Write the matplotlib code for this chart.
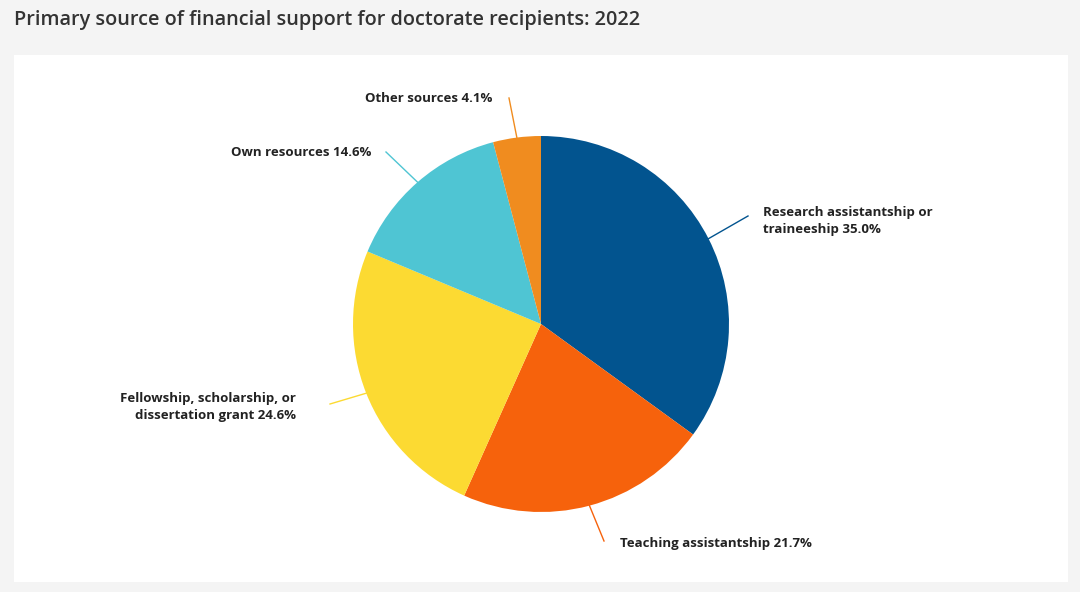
import numpy as np
import matplotlib
matplotlib.use("Agg")
import matplotlib.pyplot as plt
from matplotlib.patches import Rectangle

# ── Data ──────────────────────────────────────────────
labels = ["Research assistantship or\ntraineeship", "Teaching assistantship",
          "Fellowship, scholarship, or\ndissertation grant", "Own resources",
          "Other sources"]
shares = [35.0, 21.7, 24.6, 14.6, 4.1]
colors = ["#02548f", "#f6620c", "#fcda32", "#4fc5d3", "#f08c1f"]

# label text anchor (pixel), ha, leader end (pixel)
label_pos = [
    ((763, 221), "left", (748, 216)),
    ((620, 544), "left", (604, 541)),
    ((296, 407), "right", (330, 404)),
    ((371, 153), "right", (386, 152)),
    ((492, 99), "right", (509, 98)),
]

W, H = 1080, 592
CX, CY, R = 541, 324, 188

fig = plt.figure(figsize=(W / 100, H / 100), dpi=100)
fig.patch.set_facecolor("#f4f4f4")
fig.patches.append(Rectangle((14 / W, 10 / H), 1054 / W, 527 / H,
                             transform=fig.transFigure, facecolor="white",
                             edgecolor="none", zorder=-5))
fig.text(14 / W, 1 - 20 / H, "Primary source of financial support for doctorate recipients: 2022",
         fontsize=14.3, fontweight="semibold", color="#333333", family="Open Sans",
         va="center", ha="left")

ax = fig.add_axes([(CX - R) / W, (H - CY - R) / H, 2 * R / W, 2 * R / H])
ax.set_zorder(5)
ax.patch.set_visible(False)
wedges, _ = ax.pie(shares, colors=colors, startangle=90, counterclock=False,
                   radius=1, center=(0, 0), frame=False,
                   wedgeprops=dict(linewidth=0))
ax.set_xlim(-1, 1)
ax.set_ylim(-1, 1)
ax.axis("off")

def to_data(px, py):
    return (px - CX) / R, (CY - py) / R

for w, lab, val, col, ((tx, ty), ha, (lx, ly)) in zip(
        wedges, labels, shares, colors, label_pos):
    mid = np.deg2rad((w.theta1 + w.theta2) / 2)
    ex, ey = np.cos(mid), np.sin(mid)
    ex2, ey2 = to_data(lx, ly)
    ax.plot([ex, ex2], [ey, ey2], color=col, lw=1, clip_on=False)
    dx, dy = to_data(tx, ty)
    ax.text(dx, dy, f"{lab} {val:.1f}%", ha=ha, va="center", fontsize=9.5,
            fontweight="bold", color="#222222", family="Open Sans",
            linespacing=1.45, clip_on=False)

fig.savefig("out.png", dpi=100, facecolor=fig.get_facecolor())
